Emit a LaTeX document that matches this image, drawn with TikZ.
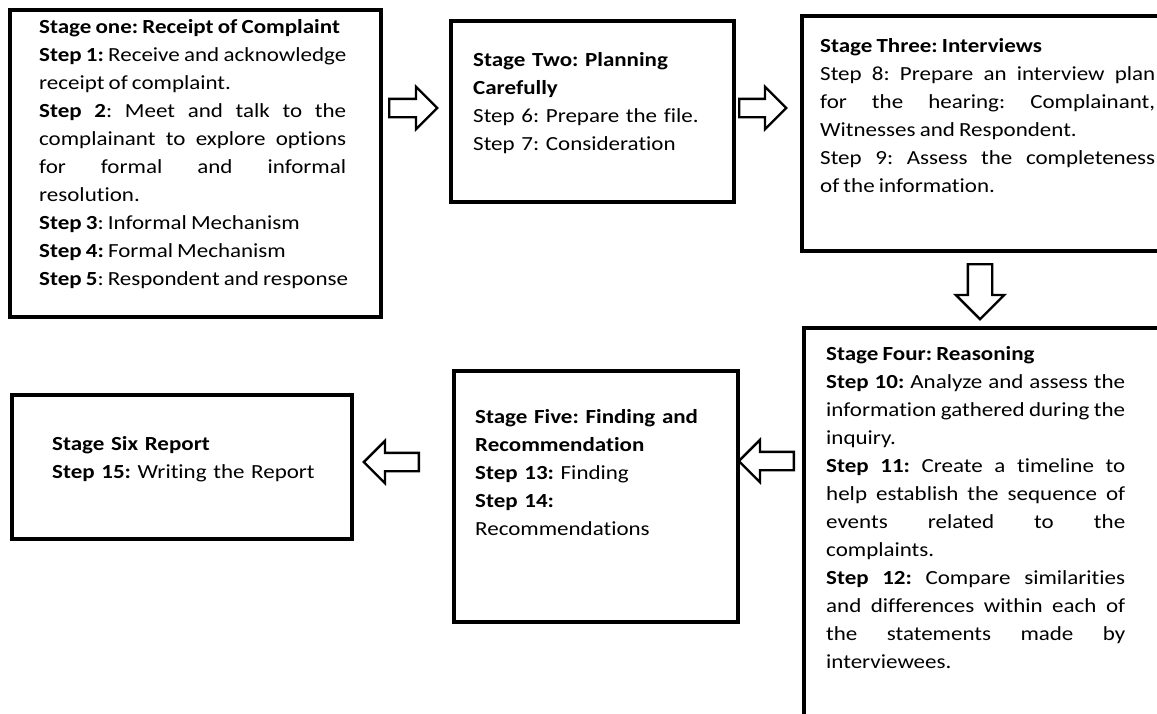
\documentclass[tikz,border=0pt]{standalone}
\usepackage{fontspec}
\setmainfont[FakeStretch=1.15, WordSpace=0.8, Ligatures=NoCommon]{Carlito}
\usetikzlibrary{shapes.arrows}
\hyphenpenalty=10000
\frenchspacing
\tikzset{
	stagebox/.style={draw, line width=3.5pt, anchor=north west, inner sep=0pt},
	steptext/.style={anchor=north west, inner sep=0pt, align=justify, font=\fontsize{20}{28}\selectfont},
	blockarrow/.style={single arrow, draw, line width=2.4pt, fill=white, inner xsep=0pt, inner ysep=8pt, single arrow head extend=12pt, anchor=tail}
}

\begin{document}
\begin{tikzpicture}[x=1pt, y=-1pt]
			%%%%% START %%%%%
			\useasboundingbox (0, 0) rectangle (1157, 713);
			\clip (0, 0) rectangle (1157, 713);
			
			% stage boxes
			\node[stagebox, minimum width=371pt, minimum height=307pt] (stageone) at (8, 8) {};
			\node[stagebox, minimum width=283pt, minimum height=181pt] (stagetwo) at (449, 19) {};
			\node[stagebox, minimum width=380pt, minimum height=235pt] (stagethree) at (800, 14) {};
			\node[stagebox, minimum width=380pt, minimum height=410pt] (stagefour) at (802, 326) {};
			\node[stagebox, minimum width=284pt, minimum height=251pt] (stagefive) at (452, 369) {};
			\node[stagebox, minimum width=340pt, minimum height=144pt] (stagesix) at (10, 393) {};
			
			% texts
			\node[steptext, text width=307pt] (textone) at (39, 13.4) {\strut\textbf{Stage one: Receipt of Complaint}\\
				\textbf{Step 1:} Receive and acknowledge\linebreak
				receipt of complaint.\\
				\textbf{Step 2}: Meet and talk to the\linebreak
				complainant to explore options\linebreak
				for formal and informal\linebreak
				resolution.\\
				\textbf{Step 3}: Informal Mechanism\\
				\textbf{Step 4:} Formal Mechanism\\
				\mbox{\textbf{Step 5}: Respondent and response}};
			\node[steptext, text width=240pt, align=left] (texttwo) at (473, 46.4) {\strut\textbf{Stage Two: Planning}\\
				\textbf{Carefully}\\
				Step 6: Prepare the file.\\
				Step 7: Consideration};
			\node[steptext, text width=335pt] (textthree) at (820, 32.4) {\strut\textbf{Stage Three: Interviews}\\
				Step 8: Prepare an interview plan\linebreak
				for the hearing: Complainant,\linebreak
				Witnesses and Respondent.\\
				Step 9: Assess the completeness\linebreak
				of the information.};
			\node[steptext, text width=299pt] (textfour) at (826, 340.4) {\strut\textbf{Stage Four: Reasoning}\\
				\textbf{Step 10:} Analyze and assess the\linebreak
				information gathered during the\linebreak
				inquiry.\\
				\textbf{Step 11:} Create a timeline to\linebreak
				help establish the sequence of\linebreak
				events related to the\linebreak
				complaints.\\
				\textbf{Step 12:} Compare similarities\linebreak
				and differences within each of\linebreak
				the statements made by\linebreak
				interviewees.};
			\node[steptext, text width=240pt, align=left] (textfive) at (475, 403.4) {\strut\textbf{Stage Five: Finding and}\\
				\textbf{Recommendation}\\
				\textbf{Step 13:} Finding\\
				\textbf{Step 14:}\\
				Recommendations};
			\node[steptext, text width=280pt, align=left] (textsix) at (52, 430.4) {\strut\textbf{Stage Six Report}\\
				\textbf{Step 15:} Writing the Report};
			
			% block arrows
			\node[blockarrow, minimum height=48pt] (onetwo) at (388, 108) {};
			\node[blockarrow, minimum height=47pt] (twothree) at (738, 108) {};
			\node[blockarrow, minimum height=55pt, inner xsep=11pt, inner ysep=0pt, shape border rotate=270] (threefour) at (980, 263) {};
			\node[blockarrow, minimum height=55pt, shape border rotate=180] (fourfive) at (795, 461) {};
			\node[blockarrow, minimum height=55pt, shape border rotate=180] (fivesix) at (420, 462) {};
			%%%%% END %%%%%
\end{tikzpicture}
\end{document}
